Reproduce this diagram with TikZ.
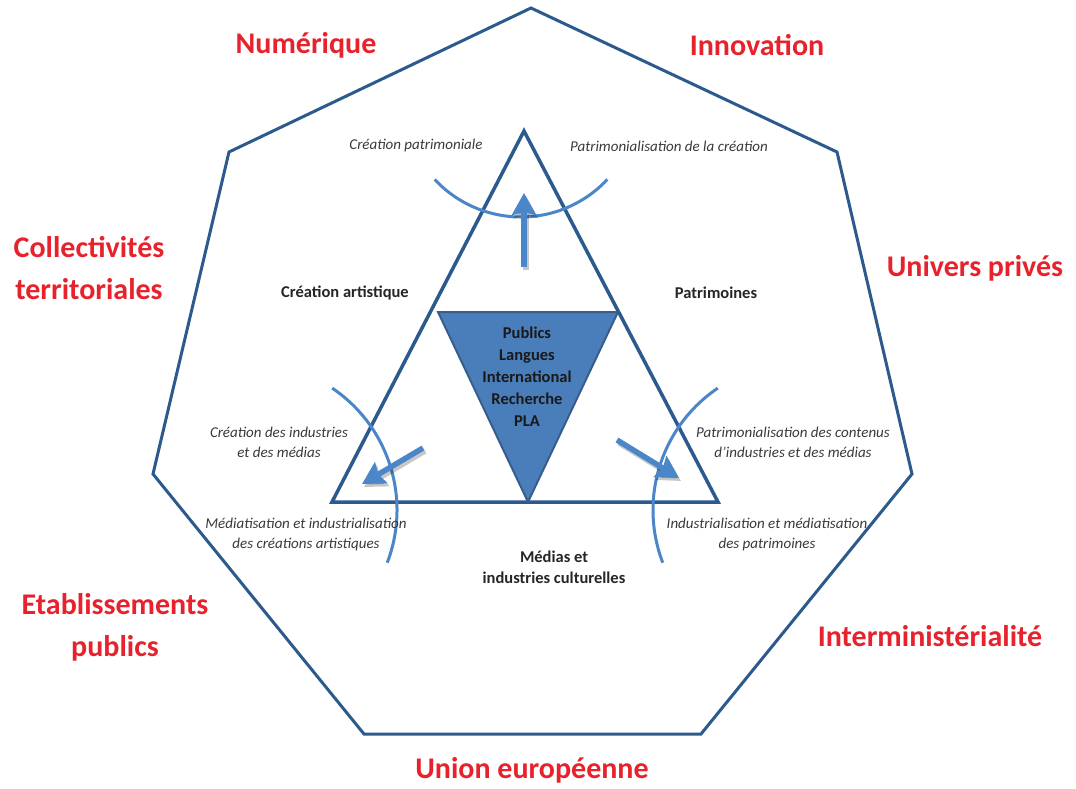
\documentclass[tikz,border=0pt]{standalone}
\usepackage{fontspec}
\setmainfont{Carlito}
\usetikzlibrary{arrows.meta}
\definecolor{outline}{HTML}{2C5A8C}
\definecolor{lightb}{HTML}{4A86C8}
\definecolor{fillb}{HTML}{4A7EBB}
\definecolor{fillborder}{HTML}{385D8A}
\definecolor{redt}{HTML}{E8222C}
\definecolor{grayt}{HTML}{3A3A3A}
\begin{document}
\begin{tikzpicture}[x=1pt,y=-1pt,
  redlbl/.style={text=redt,font=\fontsize{30}{42}\selectfont\bfseries,align=center,inner sep=0pt},
  blacklbl/.style={text=black!85,font=\fontsize{16.5}{21}\selectfont\bfseries,align=center,inner sep=0pt},
  itlbl/.style={text=grayt,font=\fontsize{15}{20}\selectfont\itshape,align=center,inner sep=0pt},
  innerlbl/.style={text=black!90,font=\fontsize{16.5}{22}\selectfont\bfseries,align=center,inner sep=0pt},
  hept/.style={draw=outline,line width=3pt,line join=miter},
  tri/.style={draw=outline,line width=3.5pt,line join=miter},
  arcline/.style={draw=lightb,line width=3pt},
  bigarrow/.style={draw=lightb,line width=5.5pt,-{Stealth[inset=3pt,width=24pt,length=22pt]}},
  shadowarrow/.style={draw=black,opacity=0.22,line width=5.5pt,-{Stealth[inset=3pt,width=24pt,length=22pt]}}
]
\useasboundingbox (0,0) rectangle (1076,789);
\fill[white] (0,0) rectangle (1076,789);

% heptagon
\coordinate (h1) at (531,8);
\coordinate (h2) at (837,152);
\coordinate (h3) at (912,474);
\coordinate (h4) at (701,734);
\coordinate (h5) at (364,734);
\coordinate (h6) at (153,474);
\coordinate (h7) at (229,152);
\draw[hept] (h1) -- (h2) -- (h3) -- (h4) -- (h5) -- (h6) -- (h7) -- cycle;

% main triangle
\coordinate (t1) at (524,131);
\coordinate (t2) at (718,502);
\coordinate (t3) at (332,502);
\draw[tri] (t1) -- (t2) -- (t3) -- cycle;

% inner inverted triangle
\coordinate (i1) at (438,312);
\coordinate (i2) at (618,312);
\coordinate (i3) at (528,502);
\filldraw[fill=fillb,draw=fillborder,line width=2pt,line join=miter] (i1) -- (i2) -- (i3) -- cycle;

% arcs
\draw[arcline] (521,99) ++(137:118) arc[start angle=137,end angle=43,radius=118];
\draw[arcline] (250,510) ++(-56:147) arc[start angle=-56,end angle=21,radius=147];
\draw[arcline] (800,510) ++(-124:147) arc[start angle=-124,end angle=-201,radius=147];

% arrows
\coordinate (a1s) at (524,267);
\coordinate (a1e) at (524,193);
\coordinate (a2s) at (423,448);
\coordinate (a2e) at (362,484);
\coordinate (a3s) at (617,440);
\coordinate (a3e) at (679,478);
\draw[shadowarrow] ([shift={(2,3)}]a1s) -- ([shift={(2,3)}]a1e);
\draw[shadowarrow] ([shift={(2,3)}]a2s) -- ([shift={(2,3)}]a2e);
\draw[shadowarrow] ([shift={(2,3)}]a3s) -- ([shift={(2,3)}]a3e);
\draw[bigarrow] (a1s) -- (a1e);
\draw[bigarrow] (a2s) -- (a2e);
\draw[bigarrow] (a3s) -- (a3e);

% red labels
\node[redlbl] (numerique) at (306,45) {Numérique};
\node[redlbl] (innovation) at (757,45) {Innovation};
\node[redlbl] (collect) at (89,268) {Collectivités\\territoriales};
\node[redlbl] (univers) at (975,268) {Univers privés};
\node[redlbl] (etab) at (115,627) {Etablissements\\publics};
\node[redlbl] (intermin) at (930,636) {Interministérialité};
\node[redlbl] (union) at (532,770) {Union européenne};

% black labels
\node[blacklbl] (creart) at (345,293) {Création artistique};
\node[blacklbl] (patri) at (716,293) {Patrimoines};
\node[blacklbl] (medias) at (554,567) {Médias et\\industries culturelles};
\node[innerlbl] (inner) at (527,377) {Publics\\Langues\\International\\Recherche\\PLA};

% italic labels
\node[itlbl] (crepat) at (416,146) {Création patrimoniale};
\node[itlbl] (patcre) at (669,146) {Patrimonialisation de la création};
\node[itlbl] (creind) at (279,442) {Création des industries\\et des médias};
\node[itlbl] (medind) at (306,534) {Médiatisation et industrialisation\\des créations artistiques};
\node[itlbl] (patcont) at (793,442) {Patrimonialisation des contenus\\d’industries et des médias};
\node[itlbl] (indmed) at (767,534) {Industrialisation et médiatisation\\des patrimoines};
\end{tikzpicture}
\end{document}
